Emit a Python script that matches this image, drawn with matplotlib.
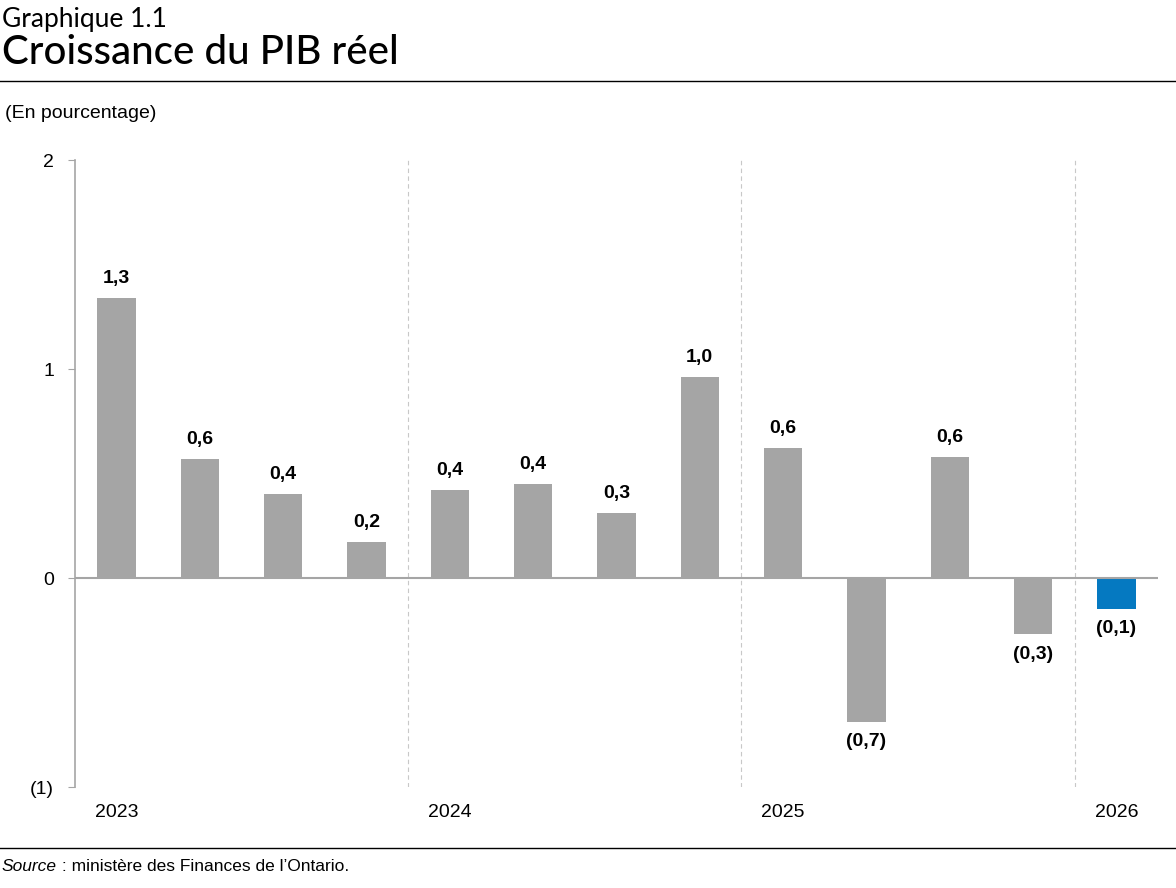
import matplotlib.pyplot as plt
from matplotlib.lines import Line2D

# growth by quarter, 2023 Q1 .. 2026 Q1
values = [1.34, 0.57, 0.40, 0.17, 0.42, 0.45, 0.31, 0.96, 0.62, -0.69, 0.58, -0.27, -0.15]
labels = ['1,3', '0,6', '0,4', '0,2', '0,4', '0,4', '0,3', '1,0', '0,6', '(0,7)', '0,6', '(0,3)', '(0,1)']
years = ['2023', '2024', '2025', '2026']
year_pos = [0, 4, 8, 12]
sep_pos = [3.5, 7.5, 11.5]
yticks = [-1, 0, 1, 2]
ytick_labels = ['(1)', '0', '1', '2']

grey = '#a5a5a5'
blue = '#0579c1'
colors = [grey] * 12 + [blue]

plt.rcParams['font.family'] = ['Liberation Sans Narrow', 'Liberation Sans', 'DejaVu Sans']

fig = plt.figure(figsize=(11.76, 8.88), dpi=100)
ax = fig.add_axes([75 / 1176, 1 - 787 / 888, 1083 / 1176, 627 / 888])

x = list(range(len(values)))
ax.bar(x, values, width=0.46, color=colors, zorder=3)
ax.axhline(0, color=grey, lw=1.5, zorder=4)
for s in sep_pos:
    ax.axvline(s, color='#c8c8c8', lw=0.8, ls=(0, (4, 3)), zorder=1)

for xi, v, lab in zip(x, values, labels):
    if v >= 0:
        ax.annotate(lab, (xi, v), xytext=(0, 8), textcoords='offset points',
                    ha='center', va='bottom', fontsize=14, fontweight='bold')
    else:
        ax.annotate(lab, (xi, v), xytext=(0, -8), textcoords='offset points',
                    ha='center', va='top', fontsize=14, fontweight='bold')

ax.set_xlim(-0.5, 12.5)
ax.set_ylim(-1, 2)
ax.set_yticks(yticks)
ax.set_yticklabels(ytick_labels, fontsize=14)
ax.tick_params(axis='y', length=5, color=grey, pad=10)
ax.set_xticks(year_pos)
ax.set_xticklabels(years, fontsize=14)
ax.tick_params(axis='x', length=0, pad=12)
for side in ['top', 'right', 'bottom']:
    ax.spines[side].set_visible(False)
ax.spines['left'].set_color(grey)
ax.spines['left'].set_linewidth(1.2)

# header and footer
fig.text(2 / 1176, 1 - 19 / 888, 'Graphique 1.1', fontsize=19, family=['Lato', 'DejaVu Sans'], va='center')
fig.text(2 / 1176, 1 - 52 / 888, 'Croissance du PIB réel', fontsize=29, family=['Lato', 'DejaVu Sans'],
         fontweight='medium', va='center')
fig.add_artist(Line2D([0, 1], [1 - 81 / 888, 1 - 81 / 888], color='black', lw=1))
fig.text(5 / 1176, 1 - 113 / 888, '(En pourcentage)', fontsize=14, va='center')
fig.add_artist(Line2D([0, 1], [1 - 848 / 888, 1 - 848 / 888], color='black', lw=1))
src = fig.text(2 / 1176, 1 - 866 / 888, 'Source', fontsize=12.5, style='italic', va='center')
ax.annotate(' : ministère des Finances de l’Ontario.', xy=(1, 0.5), xycoords=src,
            va='center', ha='left', fontsize=12.5, annotation_clip=False)

fig.savefig('out.png', dpi=100)
